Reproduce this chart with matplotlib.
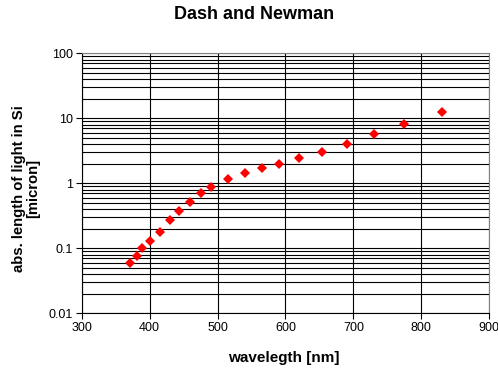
import matplotlib.pyplot as plt
from matplotlib.ticker import FixedLocator, FixedFormatter, LogLocator, NullFormatter

# Absorption length of light in silicon vs wavelength
wavelength = [371, 381, 389, 400, 415, 430, 444, 460, 476, 491,
              515, 541, 565, 591, 620, 654, 690, 730, 775, 830]
abs_length = [0.060, 0.075, 0.10, 0.13, 0.18, 0.27, 0.38, 0.51, 0.71, 0.88,
              1.16, 1.43, 1.70, 2.0, 2.45, 3.03, 4.07, 5.67, 8.17, 12.4]

x_ticks = [300, 400, 500, 600, 700, 800, 900]
y_ticks = [0.01, 0.1, 1, 10, 100]
y_tick_labels = ["0.01", "0.1", "1", "10", "100"]

plt.rcParams['font.family'] = ['Liberation Sans', 'DejaVu Sans']

fig = plt.figure(figsize=(4.98, 3.69), dpi=100)
ax = fig.add_axes([0.164, 0.151, 0.8185, 0.7046])

ax.plot(wavelength, abs_length, linestyle='none', marker='D',
        markersize=5, color='#ff0000', markeredgewidth=0, zorder=3)

ax.set_yscale('log')
ax.set_xlim(300, 900)
ax.set_ylim(0.01, 100)

ax.xaxis.set_major_locator(FixedLocator(x_ticks))
ax.yaxis.set_major_locator(FixedLocator(y_ticks))
ax.yaxis.set_major_formatter(FixedFormatter(y_tick_labels))
ax.yaxis.set_minor_locator(LogLocator(base=10, subs=range(2, 10)))
ax.yaxis.set_minor_formatter(NullFormatter())

# Excel-style black gridlines, major and minor
ax.grid(True, which='major', axis='both', color='black', linewidth=0.8)
ax.grid(True, which='minor', axis='y', color='black', linewidth=0.8)
ax.set_axisbelow(True)

ax.tick_params(which='major', direction='out', length=4, width=0.8,
               labelsize=9, pad=2, color='black')
ax.tick_params(which='minor', length=0)

for side in ['left', 'bottom']:
    ax.spines[side].set_color('black')
    ax.spines[side].set_linewidth(0.8)
for side in ['top', 'right']:
    ax.spines[side].set_color('#808080')
    ax.spines[side].set_linewidth(0.8)

fig.text(0.511, 0.962, "Dash and Newman", ha='center', va='center',
         fontsize=13, fontweight='bold')
fig.text(0.570, 0.03, "wavelegth [nm]", ha='center', va='center',
         fontsize=11, fontweight='bold')
fig.text(0.052, 0.488, "abs. length of light in Si\n[micron]", ha='center',
         va='center', rotation=90, multialignment='center',
         fontsize=10.7, fontweight='bold', linespacing=1.0)

fig.savefig("out.png", dpi=100)
